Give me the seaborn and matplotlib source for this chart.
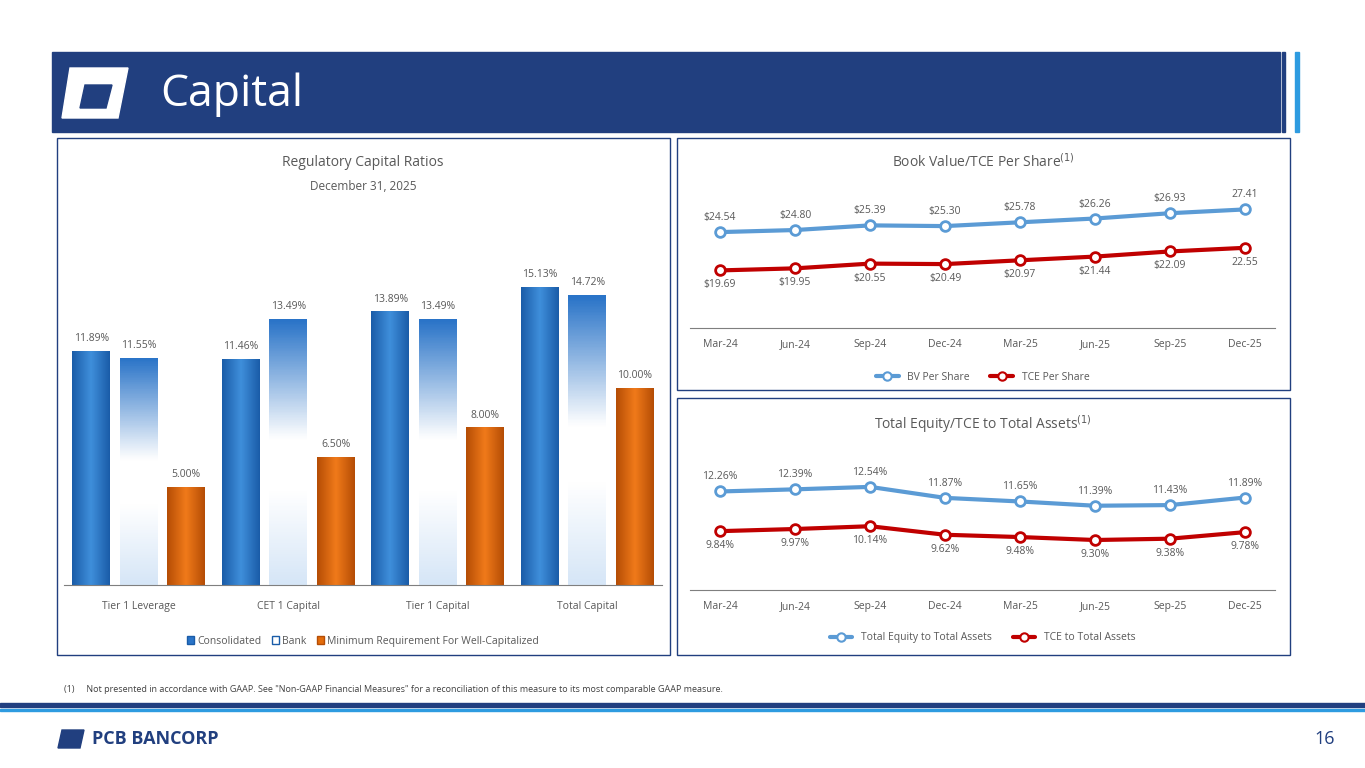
# %%
import numpy as np
import pandas as pd
import matplotlib.pyplot as plt
from matplotlib.patches import Rectangle, Polygon
from matplotlib.lines import Line2D
from matplotlib.colors import LinearSegmentedColormap
import seaborn as sns

sns.set_style('white')
plt.rcParams['font.family'] = ['Open Sans', 'DejaVu Sans']
plt.rcParams['text.color'] = '#595959'

W, H = 1365, 768


#%%
def box(x0, y0, x1, y1):
    """pixel box -> figure fraction rect"""
    return [x0 / W, 1 - y1 / H, (x1 - x0) / W, (y1 - y0) / H]

fig = plt.figure(figsize=(13.65, 7.68), dpi=100)
bg = plt.axes([0, 0, 1, 1])
bg.set_xlim(0, W)
bg.set_ylim(H, 0)
bg.axis('off')
bg.add_patch(Rectangle((52, 52), 1228, 80, color='#213F7F'))
bg.add_patch(Rectangle((1282, 52), 3, 80, color='#213F7F'))
bg.add_patch(Rectangle((1295, 52), 4, 80, color='#2E9BE0'))
bg.add_patch(Polygon([(70, 68), (128, 68), (118, 118), (62, 118)], color='white'))
bg.add_patch(Polygon([(85, 85), (112, 85), (106, 108), (80, 108)], color='#213F7F'))
bg.text(160, 95, 'Capital', color='white', fontsize=32, va='center')
for b in [(57, 138, 670, 655), (677, 138, 1290, 390), (677, 398, 1290, 655)]:
    bg.add_patch(Rectangle((b[0], b[1]), b[2] - b[0], b[3] - b[1], fill=False, ec='#213F7F', lw=1))
bg.text(64, 690, '(1)     Not presented in accordance with GAAP. See "Non-GAAP Financial Measures" for a reconciliation of this measure to its most comparable GAAP measure.',
        fontsize=6.5, color='#404040', va='center')
bg.add_patch(Rectangle((0, 703), W, 4, color='#213F7F'))
bg.add_patch(Rectangle((0, 709), W, 2, color='#2E9BE0'))
bg.add_patch(Polygon([(62, 730), (84, 730), (80, 748), (58, 748)], color='#213F7F'))
bg.text(92, 739, 'PCB BANCORP', fontsize=13, fontweight='bold', color='#213F7F', va='center')
bg.text(1335, 739, '16', fontsize=13, color='#213F7F', va='center', ha='right')
bg.text(363, 162, 'Regulatory Capital Ratios', fontsize=10, ha='center', va='center')
bg.text(363, 186, 'December 31, 2025', fontsize=8.5, ha='center', va='center')

# %%
cap = pd.DataFrame({
    'ratio': ['Tier 1 Leverage', 'CET 1 Capital', 'Tier 1 Capital', 'Total Capital'] * 3,
    'entity': ['Consolidated'] * 4 + ['Bank'] * 4 + ['Minimum Requirement For Well-Capitalized'] * 4,
    'value': [11.89, 11.46, 13.89, 15.13, 11.55, 13.49, 13.49, 14.72, 5.00, 6.50, 8.00, 10.00],
})
cmaps = {
    'Consolidated': LinearSegmentedColormap.from_list('c', ['#1A5CA8', '#3F8FDB', '#1A5CA8']),
    'Bank': LinearSegmentedColormap.from_list('b', [(0, '#D6E6F7'), (0.35, '#FFFFFF'), (0.55, '#FFFFFF'), (1, '#2A74C8')]),
    'Minimum Requirement For Well-Capitalized': LinearSegmentedColormap.from_list('o', ['#B54D05', '#F07A1A', '#B54D05']),
}
grad = np.linspace(0, 1, 100).reshape(1, -1)
bgrad = np.linspace(0, 1, 100).reshape(-1, 1)

ax = plt.axes(box(64, 210, 662, 585))
sns.barplot(data=cap, x='ratio', y='value', hue='entity', palette=['#2A74C8', '#FFFFFF', '#E36C0A'],
            width=0.95, gap=0.2, edgecolor='none', ax=ax)
ax.set_ylim(0, 15.13 * 375 / 298)
for cont, ent in zip(ax.containers, cap['entity'].unique()):
    for p, v in zip(cont.patches, cap[cap['entity'] == ent]['value']):
        x0, w, h = p.get_x(), p.get_width(), p.get_height()
        img = bgrad if ent == 'Bank' else grad
        im = ax.imshow(img, cmap=cmaps[ent], extent=[x0, x0 + w, 0, h], aspect='auto', origin='lower', zorder=2)
        im.set_clip_path(p)
        ax.text(x0 + w / 2, h + 0.35, f'{v:.2f}%', ha='center', va='bottom', fontsize=7.5, color='#595959')
ax.set_xlim(-0.5, 3.5)
ax.set_xlabel('')
ax.set_ylabel('')
ax.set_yticks([])
sns.despine(ax=ax, left=True)
ax.spines['bottom'].set_color('#7F7F7F')
ax.tick_params(axis='x', labelsize=7.5, labelcolor='#595959', pad=8)
h_, l_ = ax.get_legend_handles_labels()
for hh, c, e in zip(h_, ['#2A74C8', '#FFFFFF', '#E36C0A'], ['#1A5CA8', '#1A5CA8', '#B54D05']):
    hh.set_facecolor(c)
    hh.set_edgecolor(e)
ax.legend(h_, l_, loc='upper center', bbox_to_anchor=(0.5, -0.11), ncol=3, frameon=False,
          fontsize=7.5, handlelength=0.7, handleheight=0.7, columnspacing=1.0, handletextpad=0.3)

# %%
qtr = ['Mar-24', 'Jun-24', 'Sep-24', 'Dec-24', 'Mar-25', 'Jun-25', 'Sep-25', 'Dec-25']
bv = pd.DataFrame({'q': qtr * 2, 'series': ['BV Per Share'] * 8 + ['TCE Per Share'] * 8,
                   'v': [24.54, 24.80, 25.39, 25.30, 25.78, 26.26, 26.93, 27.41,
                         19.69, 19.95, 20.55, 20.49, 20.97, 21.44, 22.09, 22.55]})
bv_lbl = ['$24.54', '$24.80', '$25.39', '$25.30', '$25.78', '$26.26', '$26.93', '27.41',
          '$19.69', '$19.95', '$20.55', '$20.49', '$20.97', '$21.44', '$22.09', '22.55']
eq = pd.DataFrame({'q': qtr * 2, 'series': ['Total Equity to Total Assets'] * 8 + ['TCE to Total Assets'] * 8,
                   'v': [12.26, 12.39, 12.54, 11.87, 11.65, 11.39, 11.43, 11.89,
                         9.84, 9.97, 10.14, 9.62, 9.48, 9.30, 9.38, 9.78]})
eq_lbl = [f'{v:.2f}%' for v in eq['v']]


def line_panel(df, lbls, rect, ylim, title, ttl_y):
    a = plt.axes(rect)
    cols = ['#5B9BD5', '#C00000']
    sns.lineplot(data=df, x='q', y='v', hue='series', palette=cols, lw=3, legend=False,
                 marker='o', markersize=7, markerfacecolor='white', markeredgewidth=2, sort=False, ax=a)
    for line, c in zip(a.lines, cols):
        line.set_markeredgecolor(c)
    n = len(qtr)
    for i, (v, t) in enumerate(zip(df['v'], lbls)):
        up = i < n
        a.text(i % n, v, t, ha='center', va='bottom' if up else 'top', fontsize=7.5, color='#595959',
               transform=a.transData + plt.matplotlib.transforms.ScaledTranslation(0, 0.09 if up else -0.09, fig.dpi_scale_trans))
    a.set_ylim(*ylim)
    a.set_xlim(-0.4, n - 0.6)
    a.set_xlabel('')
    a.set_ylabel('')
    a.set_yticks([])
    sns.despine(ax=a, left=True)
    a.spines['bottom'].set_color('#7F7F7F')
    a.tick_params(axis='x', labelsize=7.5, labelcolor='#595959', pad=8, length=0)
    hs = [Line2D([], [], color=c, lw=3, marker='o', markersize=6, markerfacecolor='white', markeredgewidth=1.5)
          for c in cols]
    a.legend(hs, df['series'].unique(), loc='upper center', bbox_to_anchor=(0.5, -0.22), ncol=2,
             frameon=False, fontsize=7.5, handlelength=2.2)
    bg.text(983, ttl_y, title, fontsize=10, ha='center', va='center')
    return a


line_panel(bv, bv_lbl, box(690, 170, 1275, 328), (12.4, 32.4), 'Book Value/TCE Per Share$^{(1)}$', 162)
line_panel(eq, eq_lbl, box(690, 440, 1275, 590), (6.25, 15.4), 'Total Equity/TCE to Total Assets$^{(1)}$', 424)

plt.savefig('out.png', dpi=100)
